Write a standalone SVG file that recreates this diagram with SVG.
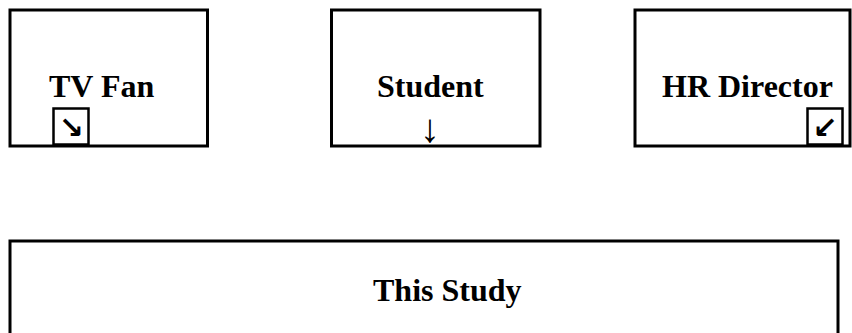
<svg xmlns="http://www.w3.org/2000/svg" width="852" height="333" viewBox="0 0 852 333">
<style>
.box{fill:#fff;stroke:#000;stroke-width:3}
.ibox{fill:#fff;stroke:#000;stroke-width:2.5}
.lbl{font-family:"Liberation Serif","Times New Roman",serif;font-weight:bold;font-size:32px;fill:#000}
.arr{font-family:"DejaVu Sans",sans-serif;font-weight:bold;font-size:30px;fill:#000;text-anchor:middle}
.darr{font-family:"Liberation Serif","DejaVu Serif",serif;font-size:40px;fill:#000;text-anchor:middle}
</style>
<rect width="852" height="333" fill="#fff"/>
<g id="tvfan">
<rect class="box" x="10" y="10" width="197.5" height="136"/>
<text class="lbl" x="49" y="96.5">TV Fan</text>
<rect class="ibox" x="53.5" y="108.5" width="35" height="36"/>
<text class="arr" x="71" y="138">↘</text>
</g>
<g id="student">
<rect class="box" x="331.5" y="10" width="208.5" height="136"/>
<text class="lbl" x="377" y="96.5">Student</text>
<text class="darr" x="430" y="142">↓</text>
</g>
<g id="hrdirector">
<rect class="box" x="635" y="10" width="215" height="136"/>
<text class="lbl" x="662" y="96.5">HR Director</text>
<rect class="ibox" x="807.5" y="108.5" width="35" height="36"/>
<text class="arr" x="825" y="138">↙</text>
</g>
<g id="thisstudy">
<rect class="box" x="10" y="241" width="828" height="110"/>
<text class="lbl" x="373" y="301">This Study</text>
</g>
<g id="connectors"></g>
</svg>
